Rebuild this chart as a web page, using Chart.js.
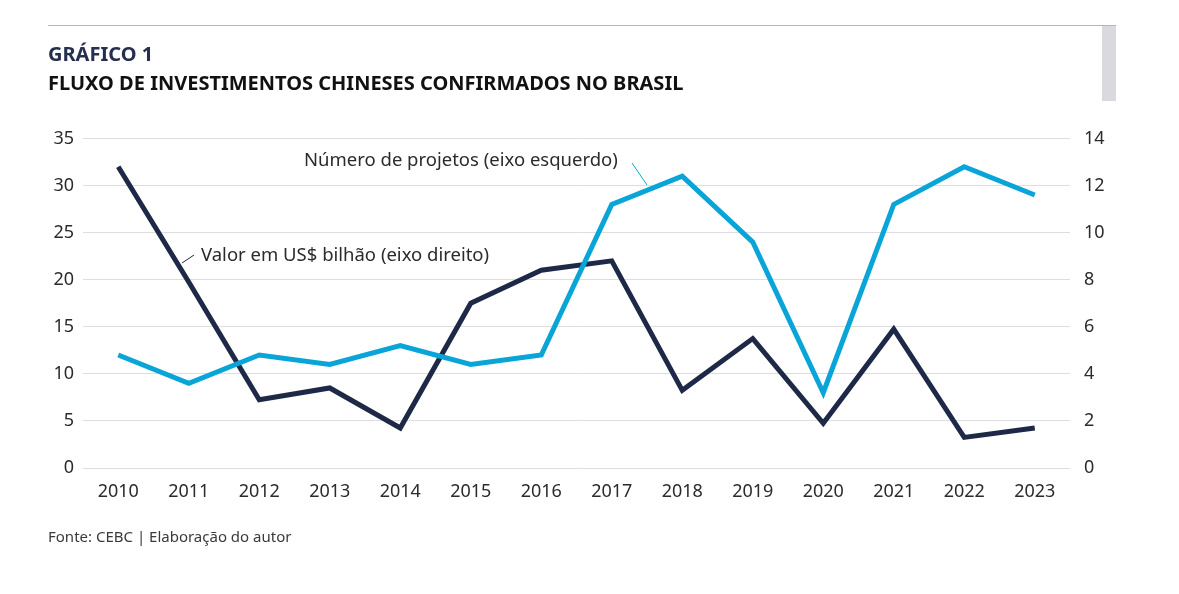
<!DOCTYPE html>
<html>
<head>
<meta charset="utf-8">
<script src="https://cdn.jsdelivr.net/npm/chart.js@4.4.1/dist/chart.umd.min.js"></script>
<style>
  html, body { margin: 0; padding: 0; background: #fff; }
  #page { position: relative; width: 1179px; height: 594px; overflow: hidden; font-family: "Noto Sans", sans-serif; }
  #topline { position: absolute; left: 48px; top: 25px; width: 1068px; height: 1px; background: #b5b5b8; }
  #tab { position: absolute; left: 1102px; top: 26px; width: 14px; height: 75px; background: #d9d9de; }
  #kicker { position: absolute; left: 48px; top: 40px; font: 700 20px "Noto Sans", sans-serif; color: #262f50; }
  #title { position: absolute; left: 48px; top: 69px; font: 700 20px "Noto Sans", sans-serif; color: #111; }
  #source { position: absolute; left: 48px; top: 526px; font: 400 15px "Noto Sans", sans-serif; color: #3a3a3a; }
  #wrap { position: absolute; left: 0; top: 0; width: 1179px; height: 594px; }
</style>
</head>
<body>
<div id="page">
  <div id="wrap"><canvas id="myChart"></canvas></div>
  <div id="topline"></div>
  <div id="tab"></div>
  <div id="kicker">GRÁFICO 1</div>
  <div id="title">FLUXO DE INVESTIMENTOS CHINESES CONFIRMADOS NO BRASIL</div>
  <div id="source">Fonte: CEBC | Elaboração do autor</div>
</div>
<script>
const years = ['2010', '2011', '2012', '2013', '2014', '2015', '2016', '2017', '2018', '2019', '2020', '2021', '2022', '2023'];
// número de projetos (eixo esquerdo)
const projetos = [12, 9, 12, 11, 13, 11, 12, 28, 31, 24, 8, 28, 32, 29];
// valor em US$ bilhão (eixo direito)
const valor = [12.8, 7.9, 2.9, 3.4, 1.7, 7.0, 8.4, 8.8, 3.3, 5.5, 1.9, 5.9, 1.3, 1.7];
const leftTicks = [0, 5, 10, 15, 20, 25, 30, 35];
const rightTicks = [0, 2, 4, 6, 8, 10, 12, 14];

const blue = '#0aa5d8';
const navy = '#1e2948';

// rótulos com linha de chamada
const labelsPlugin = {
  id: 'seriesLabels',
  afterDatasetsDraw(chart) {
    const c = chart.ctx;
    c.save();
    c.font = '18.5px "Noto Sans", sans-serif';
    c.fillStyle = '#2b2b2b';
    c.textBaseline = 'middle';
    c.textAlign = 'left';
    c.fillText('Número de projetos (eixo esquerdo)', 304, 161);
    c.fillText('Valor em US$ bilhão (eixo direito)', 201, 256);
    c.lineWidth = 1;
    c.strokeStyle = blue;
    c.beginPath();
    c.moveTo(632, 163);
    c.lineTo(647, 185);
    c.stroke();
    c.strokeStyle = navy;
    c.beginPath();
    c.moveTo(194, 255);
    c.lineTo(182, 263);
    c.stroke();
    c.restore();
  }
};

const tickFont = { family: 'Noto Sans', size: 18 };

new Chart(document.getElementById('myChart'), {
  type: 'line',
  data: {
    labels: years,
    datasets: [
      {
        label: 'Número de projetos (eixo esquerdo)',
        data: projetos,
        borderColor: blue,
        borderWidth: 5,
        pointRadius: 0,
        tension: 0,
        yAxisID: 'y'
      },
      {
        label: 'Valor em US$ bilhão (eixo direito)',
        data: valor,
        borderColor: navy,
        borderWidth: 5,
        pointRadius: 0,
        tension: 0,
        yAxisID: 'y1'
      }
    ]
  },
  options: {
    responsive: true,
    maintainAspectRatio: false,
    animation: false,
    layout: { padding: { top: 138.5, left: 0, right: 0, bottom: 0 } },
    plugins: { legend: { display: false }, tooltip: { enabled: false } },
    scales: {
      x: {
        offset: true,
        grid: { display: false, drawTicks: false },
        border: { display: false },
        ticks: { padding: 13, color: '#2b2b2b', font: tickFont },
        afterFit(scale) { scale.height = 126; }
      },
      y: {
        position: 'left',
        min: 0,
        max: 35,
        afterBuildTicks(scale) { scale.ticks = leftTicks.map(v => ({ value: v })); },
        grid: { color: '#dedee0', lineWidth: 1, drawTicks: false },
        border: { display: false },
        ticks: { padding: 9, color: '#2b2b2b', font: tickFont },
        afterFit(scale) { scale.width = 83; }
      },
      y1: {
        position: 'right',
        min: 0,
        max: 14,
        afterBuildTicks(scale) { scale.ticks = rightTicks.map(v => ({ value: v })); },
        grid: { display: false, drawTicks: false },
        border: { display: false },
        ticks: { padding: 14, color: '#2b2b2b', font: tickFont },
        afterFit(scale) { scale.width = 109; }
      }
    }
  },
  plugins: [labelsPlugin]
});
</script>
</body>
</html>
